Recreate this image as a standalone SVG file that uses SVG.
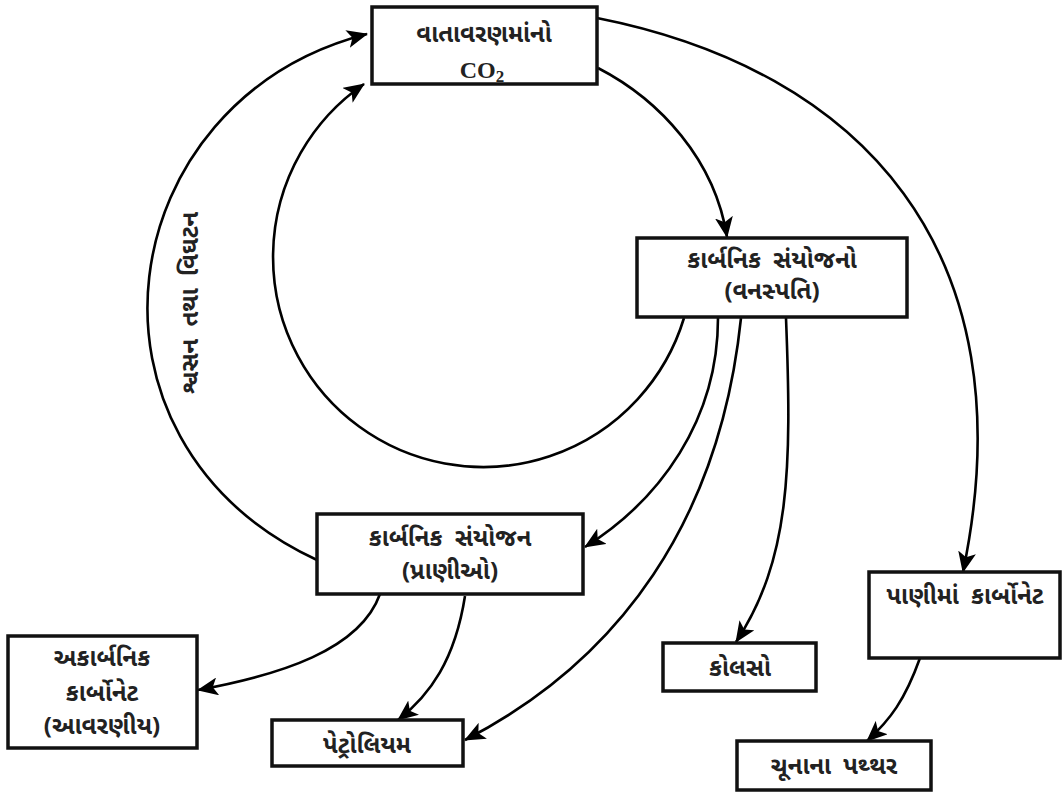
<svg xmlns="http://www.w3.org/2000/svg" width="1063" height="794" viewBox="0 0 1063 794">
<style>
.box{fill:#fff;stroke:#111;stroke-width:3.5}
.t{font-family:"Noto Sans Gujarati","Lohit Gujarati","Noto Serif Gujarati","Shruti",sans-serif;font-size:24px;fill:#222;text-anchor:middle;font-weight:bold;word-spacing:6px}
.c{fill:none;stroke:#000;stroke-width:2.6}
</style>
<defs>
<marker id="ah" markerUnits="userSpaceOnUse" markerWidth="22" markerHeight="18" viewBox="0 0 22 18" refX="20" refY="9" orient="auto">
<path d="M0,0 L21,9 L0,18 L5,9 Z" fill="#000"/>
</marker>
</defs>
<g id="connectors">
<path class="c" d="M317 560 C60 440,110 100,367 34" marker-end="url(#ah)"/>
<path class="c" d="M684 318 A210 210 0 1 1 364 84" marker-end="url(#ah)"/>
<path class="c" d="M598 68 C660 100,715 160,727 237" marker-end="url(#ah)"/>
<path class="c" d="M597 18 C860 70,1030 250,963 572" marker-end="url(#ah)"/>
<path class="c" d="M718 318 C718 420,660 500,585 547" marker-end="url(#ah)"/>
<path class="c" d="M741 318 C720 520,620 660,465 740" marker-end="url(#ah)"/>
<path class="c" d="M786 318 C792 470,790 560,736 642" marker-end="url(#ah)"/>
<path class="c" d="M380 594 C360 650,280 675,198 690" marker-end="url(#ah)"/>
<path class="c" d="M465 596 C455 660,430 695,398 720" marker-end="url(#ah)"/>
<path class="c" d="M920 658 C905 700,890 720,867 741" marker-end="url(#ah)"/>
</g>
<text class="t" transform="translate(198,303) rotate(-90)">શ્વસન તથા વિઘટન</text>
<g id="co2">
<rect class="box" x="372" y="7" width="225" height="77"/>
<text class="t" x="484" y="42">વાતાવરણમાંનો</text>
<text x="482" y="78" style="font-family:'Liberation Serif',serif;font-size:24px;font-weight:bold;text-anchor:middle;fill:#222">CO<tspan font-size="17" dy="4">2</tspan></text>
</g>
<g id="vanaspati">
<rect class="box" x="637" y="238" width="270" height="79"/>
<text class="t" x="772" y="268">કાર્બનિક સંયોજનો</text>
<text class="t" x="772" y="299">(વનસ્પતિ)</text>
</g>
<g id="prani">
<rect class="box" x="317" y="514" width="266" height="80"/>
<text class="t" x="450" y="546">કાર્બનિક સંયોજન</text>
<text class="t" x="450" y="579">(પ્રાણીઓ)</text>
</g>
<g id="akarbanik">
<rect class="box" x="8" y="636" width="189" height="112"/>
<text class="t" x="102" y="666">અકાર્બનિક</text>
<text class="t" x="102" y="701">કાર્બોનેટ</text>
<text class="t" x="102" y="734">(આવરણીય)</text>
</g>
<g id="petroleum">
<rect class="box" x="272" y="720" width="191" height="46"/>
<text class="t" x="367" y="753">પેટ્રોલિયમ</text>
</g>
<g id="kolso">
<rect class="box" x="663" y="643" width="153" height="48"/>
<text class="t" x="740" y="676">કોલસો</text>
</g>
<g id="pani">
<rect class="box" x="869" y="572" width="191" height="86"/>
<text class="t" x="965" y="604">પાણીમાં કાર્બોનેટ</text>
</g>
<g id="chunana">
<rect class="box" x="737" y="741" width="194" height="49"/>
<text class="t" x="834" y="774">ચૂનાના પથ્થર</text>
</g>
</svg>
